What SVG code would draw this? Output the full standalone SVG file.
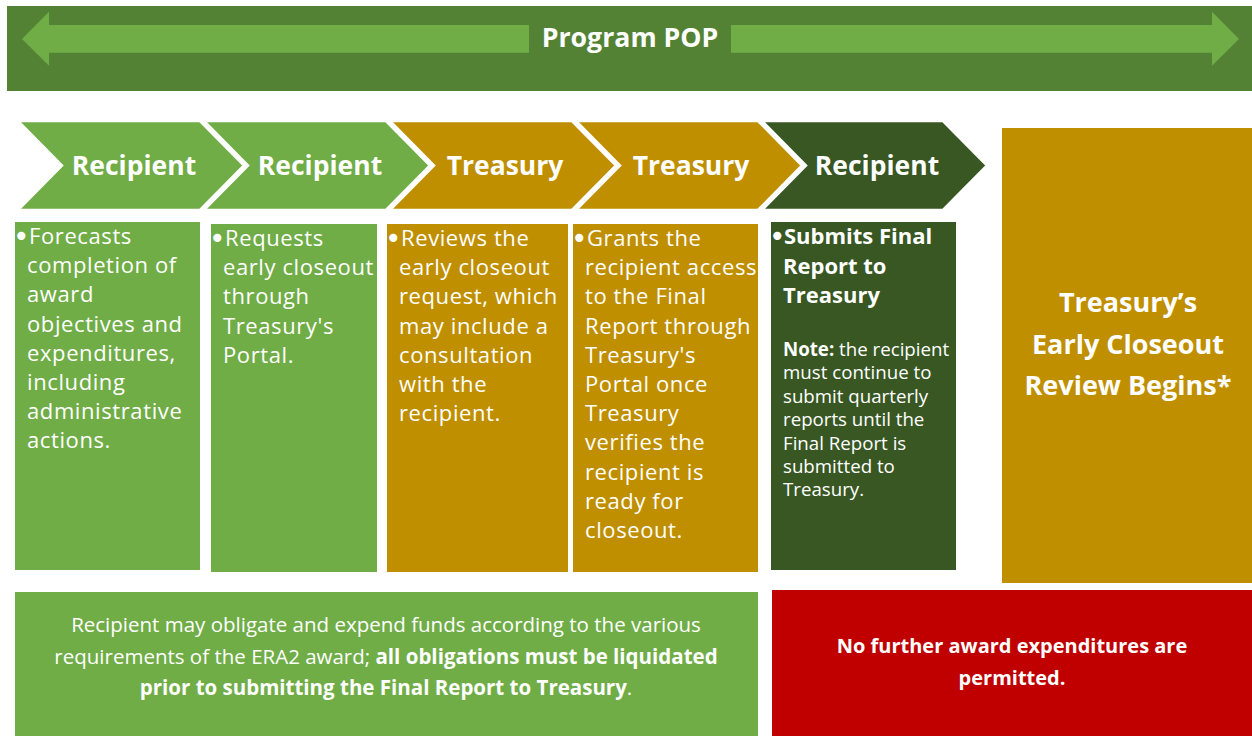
<svg xmlns="http://www.w3.org/2000/svg" width="1252" height="736" viewBox="0 0 1252 736">
<style>
.lg{fill:#70AD47}
.gd{fill:#BF8F00}
.dg{fill:#385723}
.bn{fill:#548235}
.rd{fill:#C00000}
.sep{stroke:#ffffff;stroke-width:2.5}
text{font-family:"Open Sans","Liberation Sans",sans-serif;fill:#ffffff}
.chev{font-size:26.5px;font-weight:bold;text-anchor:middle}
.body{font-size:22px;letter-spacing:0.6px}
.bul{font-family:"DejaVu Sans",sans-serif;font-size:28px;font-weight:normal;letter-spacing:0}
.bold{font-weight:bold;letter-spacing:0}
.note{font-size:18.7px}
.big{font-size:27px;font-weight:bold;text-anchor:middle}
.foot{font-size:20.5px;text-anchor:middle}
.foot2{font-size:20px;font-weight:bold;text-anchor:middle}
</style>
<rect width="1252" height="736" fill="#ffffff"/>
<g id="banner">
<rect class="bn" x="7" y="6" width="1245" height="85"/>
<path class="lg" d="M22,39 L49,11.7 L49,25 L529,25 L529,52.7 L49,52.7 L49,65.7 Z"/>
<path class="lg" d="M1239,39 L1212,11.7 L1212,25 L731,25 L731,52.7 L1212,52.7 L1212,65.7 Z"/>
<text x="630" y="47" font-size="26.7" font-weight="bold" text-anchor="middle">Program POP</text>
</g>
<g id="chevrons">
<g id="chev1"><path class="lg sep" d="M18,121 L200,121 L244,165.5 L200,210 L18,210 L62,165.5 Z"/><text class="chev" x="134" y="175">Recipient</text></g>
<g id="chev2"><path class="lg sep" d="M204,121 L386,121 L430,165.5 L386,210 L204,210 L248,165.5 Z"/><text class="chev" x="320" y="175">Recipient</text></g>
<g id="chev3"><path class="gd sep" d="M390,121 L572,121 L616,165.5 L572,210 L390,210 L434,165.5 Z"/><text class="chev" x="505" y="175">Treasury</text></g>
<g id="chev4"><path class="gd sep" d="M576,121 L758,121 L802,165.5 L758,210 L576,210 L620,165.5 Z"/><text class="chev" x="691" y="175">Treasury</text></g>
<g id="chev5"><path class="dg sep" d="M762,121 L943,121 L987,165.5 L943,210 L762,210 L806,165.5 Z"/><text class="chev" x="877" y="175">Recipient</text></g>
</g>
<g id="box1">
<rect class="lg" x="15" y="222" width="185" height="348"/>
<text class="body"><tspan class="bul" x="13" y="246">•</tspan><tspan x="29" y="244">Forecasts</tspan><tspan x="27" y="273.2">completion of</tspan><tspan x="27" y="302.4">award</tspan><tspan x="27" y="331.6">objectives and</tspan><tspan x="27" y="360.8">expenditures,</tspan><tspan x="27" y="390">including</tspan><tspan x="27" y="419.2">administrative</tspan><tspan x="27" y="448.4">actions.</tspan></text>
</g>
<g id="box2">
<rect class="lg" x="211" y="224" width="166" height="348"/>
<text class="body"><tspan class="bul" x="209" y="248">•</tspan><tspan x="225" y="246">Requests</tspan><tspan x="223" y="275.2">early closeout</tspan><tspan x="223" y="304.4">through</tspan><tspan x="223" y="333.6">Treasury's</tspan><tspan x="223" y="362.8">Portal.</tspan></text>
</g>
<g id="box3">
<rect class="gd" x="387" y="224" width="181" height="348"/>
<text class="body"><tspan class="bul" x="385" y="248">•</tspan><tspan x="401" y="246">Reviews the</tspan><tspan x="399" y="275.2">early closeout</tspan><tspan x="399" y="304.4">request, which</tspan><tspan x="399" y="333.6">may include a</tspan><tspan x="399" y="362.8">consultation</tspan><tspan x="399" y="392">with the</tspan><tspan x="399" y="421.2">recipient.</tspan></text>
</g>
<g id="box4">
<rect class="gd" x="573" y="224" width="185" height="348"/>
<text class="body"><tspan class="bul" x="571" y="248">•</tspan><tspan x="587" y="246">Grants the</tspan><tspan x="585" y="275.2">recipient access</tspan><tspan x="585" y="304.4">to the Final</tspan><tspan x="585" y="333.6">Report through</tspan><tspan x="585" y="362.8">Treasury's</tspan><tspan x="585" y="392">Portal once</tspan><tspan x="585" y="421.2">Treasury</tspan><tspan x="585" y="450.4">verifies the</tspan><tspan x="585" y="479.6">recipient is</tspan><tspan x="585" y="508.8">ready for</tspan><tspan x="585" y="538">closeout.</tspan></text>
</g>
<g id="box5">
<rect class="dg" x="771" y="222" width="185" height="348"/>
<text class="body bold"><tspan class="bul" x="769" y="246">•</tspan><tspan x="784" y="244">Submits Final</tspan><tspan x="783" y="273.5">Report to</tspan><tspan x="783" y="303">Treasury</tspan></text>
<text class="note"><tspan x="783" y="356"><tspan class="bold">Note:</tspan> the recipient</tspan><tspan x="783" y="379.4">must continue to</tspan><tspan x="783" y="402.8">submit quarterly</tspan><tspan x="783" y="426.2">reports until the</tspan><tspan x="783" y="449.6">Final Report is</tspan><tspan x="783" y="473">submitted to</tspan><tspan x="783" y="496.4">Treasury.</tspan></text>
</g>
<g id="box6">
<rect class="gd" x="1002" y="128" width="250" height="455"/>
<text class="big"><tspan x="1128" y="312">Treasury’s</tspan><tspan x="1128" y="353.5">Early Closeout</tspan><tspan x="1128" y="395">Review Begins*</tspan></text>
</g>
<g id="footLeft">
<rect class="lg" x="15" y="592" width="743" height="144"/>
<text class="foot"><tspan x="386" y="632">Recipient may obligate and expend funds according to the various</tspan><tspan x="386" y="663.5">requirements of the ERA2 award; <tspan font-weight="bold">all obligations must be liquidated</tspan></tspan><tspan x="386" y="695"><tspan font-weight="bold">prior to submitting the Final Report to Treasury</tspan>.</tspan></text>
</g>
<g id="footRight">
<rect class="rd" x="772" y="590" width="480" height="146"/>
<text class="foot2"><tspan x="1012" y="653">No further award expenditures are</tspan><tspan x="1012" y="685">permitted.</tspan></text>
</g>
<g id="connectors"/>
</svg>
